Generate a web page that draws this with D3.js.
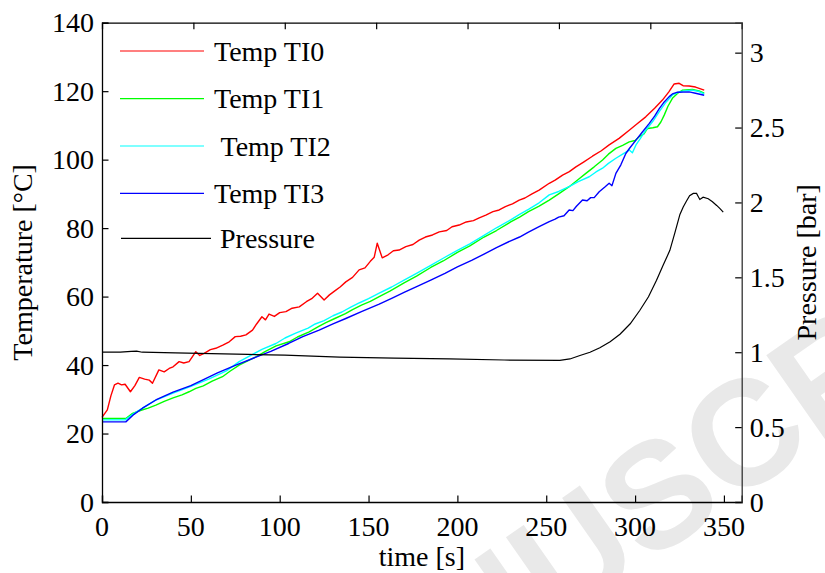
<!DOCTYPE html>
<html>
<head>
<meta charset="utf-8">
<script src="https://cdn.jsdelivr.net/npm/d3@7"></script>
<style>
  body { margin: 0; background: #fff; }
</style>
</head>
<body>
<svg id="chart" width="825" height="573" font-family="Liberation Serif, DejaVu Serif, serif"></svg>
<script>
// Temperature series, [time s, temp °C]
const ti0 = [[0,24.7],[3,26.9],[5,31],[7,34.2],[9,34.7],[11,34.2],[13,34.4],[16,32.2],[18.5,34],[21,36.4],[24,35.9],[26.6,35.6],[28.4,34.7],[32,38.6],[35,38],[37.8,39],[40,39.5],[43.4,41],[46,40.6],[49,41],[52.8,43.9],[55,42.8],[57.5,43.4],[61,44.5],[64,44.9],[68,45.8],[71.6,46.8],[75,48.3],[78,48.4],[81,48.8],[84.7,50.2],[87,52],[90,54.1],[92,53.2],[94,54.9],[97,54.2],[100,55.3],[103.5,55.6],[107,56.6],[111,57],[115,58.5],[118,59.4],[121.3,61],[125,59],[128,60.5],[131.6,61.9],[134,62.8],[137.2,64.3],[141,65.6],[144.7,67.8],[148,68.4],[151,70.3],[153.2,71.5],[154.9,75.6],[157.7,71.3],[161,72.2],[164,73.4],[167.2,73.6],[171,74.6],[175,75.2],[178.5,76.5],[182,77.4],[186,78],[189.8,78.9],[194,79.3],[197,80.4],[201,80.9],[205,81.8],[209,82.2],[212.3,83],[216,83.8],[220,84.8],[223.5,85.3],[227,86.3],[231,87.1],[234.8,88.2],[238,88.8],[242,90],[246,91.1],[251.7,93.1],[255,94],[259.2,95.5],[263,96.5],[266.7,97.9],[271,99.3],[276,101],[281,102.6],[285.4,104.3],[291,106.2],[296.7,108.6],[301,110.4],[306,112.5],[311,115],[315.4,117.4],[319,119.8],[322,122.1],[324.8,122.3],[327,121.6],[330.4,121.5],[334,121.2],[338.9,120.3]];
const ti1 = [[0,24.4],[6,24.4],[13.4,24.4],[17.2,25.9],[22,26.8],[26,27.4],[30.3,28.3],[35,29.4],[40,30.4],[45,31.3],[49,32.2],[52.8,33.2],[57,33.9],[62,35.3],[67.8,36.6],[72,38.2],[77.2,40],[82,41.2],[86.6,42.4],[92,44],[98,45.6],[105.3,46.8],[110,48.2],[116.6,49.7],[122,51.3],[126,52.4],[131,53.6],[137,55],[141,56.2],[146,57.5],[151,58.6],[156,60],[162,61.6],[170,64],[177,66],[185,68.5],[192,70.4],[200,72.9],[207,74.8],[215,77.4],[222,79.3],[230,81.8],[235,83.2],[240,84.8],[246,86.4],[251.7,88.2],[257,90],[262.9,92.1],[268,94.2],[272.3,96],[277,97.9],[281.7,99.9],[285,101.6],[289.2,103.3],[293,104.2],[296.7,105.2],[300,105.6],[302.3,106.7],[305,107.5],[307,109.1],[310,109.3],[312.6,109.6],[314.5,111],[316.4,113],[318.5,115.6],[321,117.9],[324,119.4],[326.7,120.3],[332.3,120.5],[336,120.1],[338.9,119.4]];
const ti2 = [[0,24],[6,24],[13,24],[17,25.5],[22.8,27.4],[30,29.7],[40,31.8],[50,33.8],[60,35.9],[70,38.3],[77.2,41],[85,43.2],[90,44.6],[97.9,46.3],[103,47.9],[109,49.3],[116,50.8],[120,52],[125,53],[130,54.4],[135,55.5],[140,56.9],[145,58.2],[150,59.4],[156,61],[163,62.8],[170,64.8],[177,66.8],[185,69.1],[192,71.2],[200,73.5],[207,75.4],[215,77.9],[222,80.1],[230,82.4],[235,84],[240,85.5],[246,87.4],[251.7,89.7],[257,90.7],[262.9,92.1],[268,93.6],[274.2,95],[278,96.4],[281.7,97.5],[285,98.9],[289.2,100.4],[293,101.6],[296.7,102.8],[298.5,102],[300.5,104.3],[303,106.2],[306,108.6],[310,111.2],[313.6,114],[317,116.5],[321,118.9],[324,119.6],[326.7,120],[332,120.3],[336,119.9],[338.9,119.2]];
const ti3 = [[0,23.4],[7,23.4],[13.4,23.4],[18,25.6],[22.8,27.4],[30.3,29.8],[40,32.1],[50,34],[56.5,35.6],[65,37.7],[75,39.9],[86.6,42.3],[95,44],[105,46.3],[113,48.3],[122.2,50.2],[130,52],[137.2,53.6],[146,55.6],[156,57.8],[163,59.5],[170,61.2],[178,63.1],[185,64.8],[193,66.8],[200,68.7],[208,70.6],[215,72.4],[222,74.3],[230,76.3],[235,77.4],[240,78.8],[246,80.4],[251.7,81.9],[255,82.6],[257,83.2],[260,83.6],[262.9,85.3],[265,85.1],[267,86.4],[270.4,88.2],[273,88],[275,88.9],[277,88.9],[279.8,90.6],[283,92],[285.4,93.1],[287,92.4],[289.2,96],[292,98.5],[294.8,101.8],[297,103.4],[300.5,105.7],[304,108],[308,110.6],[311,112.7],[313.6,114.9],[316,116.6],[319.2,118.4],[321,119.2],[323.9,119.7],[330.4,119.8],[334,119.4],[338.9,118.8]];
// Pressure, [time s, bar]
const pressure = [[0,1.0],[10,1.0],[16,1.005],[19,1.007],[22,1.0],[40,0.995],[60,0.99],[80,0.985],[100,0.98],[130,0.967],[160,0.96],[190,0.955],[220,0.948],[250.5,0.945],[256,0.955],[261.5,0.978],[267,1.0],[272.4,1.03],[278,1.07],[283.4,1.12],[289,1.19],[294.3,1.28],[299,1.37],[303.4,1.48],[307,1.58],[310.7,1.68],[313.5,1.8],[316.2,1.92],[318,1.97],[319.8,2.01],[321.5,2.045],[323.5,2.06],[325.3,2.06],[326.2,2.04],[327.1,2.02],[328.9,2.035],[331.7,2.025],[334,2.005],[336.3,1.98],[338,1.96],[339.9,1.935]];

const names = ["Temp TI0", "Temp TI1", " Temp TI2", "Temp TI3", "Pressure"];
const colors = ["#ff0000", "#00ff00", "#00ffff", "#0000ff", "#000000"];
const xTicks = [0, 50, 100, 150, 200, 250, 300, 350];
const xTopTicks = [50, 100, 150, 200, 250, 300];
const tempTicks = [0, 20, 40, 60, 80, 100, 120, 140];
const presTicks = [0, 0.5, 1, 1.5, 2, 2.5, 3];

const svg = d3.select("#chart");
const L = 102, R = 741.7, T = 22.7, B = 502;
const tick = 6.5;
const fs = 28;
const serif = "'Liberation Serif', 'DejaVu Serif', serif";

// watermark, behind everything
svg.append("text")
  .attr("transform", "translate(278,823) rotate(-35)")
  .style("font-family", "'Liberation Sans', Arial, sans-serif")
  .style("font-weight", "bold")
  .style("font-size", "150px")
  .attr("fill", "#e9e9e9")
  .text("MANUSCRIPT");

const x = d3.scaleLinear().domain([0, 360]).range([L, R]);
const x2 = d3.scaleLinear().domain([0, 350]).range([L, R]);
const y = d3.scaleLinear().domain([0, 140]).range([B, T]);
const y2 = d3.scaleLinear().domain([0, 3.2]).range([B, T]);

const tempLine = d3.line().x((d) => x(d[0])).y((d) => y(d[1]));
const presLine = d3.line().x((d) => x2(d[0])).y((d) => y2(d[1]));

const lines = svg.append("g");
[ti0, ti1, ti2, ti3].forEach((s, i) => {
  lines.append("path")
    .attr("d", tempLine(s))
    .attr("fill", "none")
    .attr("stroke", colors[i])
    .attr("stroke-width", 1.4)
    .attr("stroke-linejoin", "round");
});
lines.append("path")
  .attr("d", presLine(pressure))
  .attr("fill", "none")
  .attr("stroke", colors[4])
  .attr("stroke-width", 1.2);

// Axes (inward ticks, matlab style)
const axBottom = svg.append("g").attr("transform", `translate(0,${B})`)
  .call(d3.axisTop(x).tickValues(xTicks).tickSize(tick).tickFormat(""));
const axTop = svg.append("g").attr("transform", `translate(0,${T})`)
  .call(d3.axisBottom(x2).tickValues(xTopTicks).tickSize(tick).tickFormat(""));
const axLeft = svg.append("g").attr("transform", `translate(${L},0)`)
  .call(d3.axisRight(y).tickValues(tempTicks).tickSize(tick).tickFormat(""));
const axRight = svg.append("g").attr("transform", `translate(${R},0)`)
  .call(d3.axisLeft(y2).tickValues(presTicks).tickSize(tick).tickFormat(""));
[axBottom, axTop, axLeft, axRight].forEach((g) => {
  g.select(".domain").attr("stroke", "#000").attr("stroke-width", 1.3);
  g.selectAll(".tick line").attr("stroke", "#000").attr("stroke-width", 1.2);
});
axRight.select(".domain").attr("stroke", "#333");

// all text in Times-like serif
const label = (sel) => sel.style("font-family", serif).style("font-size", fs + "px").attr("fill", "#000");

// Tick labels
svg.append("g").selectAll("text").data(xTicks).join("text")
  .attr("x", (d) => x(d)).attr("y", 536)
  .attr("text-anchor", "middle").call(label)
  .text((d) => d);
svg.append("g").selectAll("text").data(tempTicks).join("text")
  .attr("x", L - 8).attr("y", (d) => y(d)).attr("dy", "0.34em")
  .attr("text-anchor", "end").call(label)
  .text((d) => d);
svg.append("g").selectAll("text").data(presTicks).join("text")
  .attr("x", R + 8).attr("y", (d) => y2(d)).attr("dy", "0.34em")
  .attr("text-anchor", "start").call(label)
  .text((d) => d);

// Axis titles
svg.append("text").attr("x", (L + R) / 2).attr("y", 566)
  .attr("text-anchor", "middle").call(label).text("time [s]");
svg.append("text").attr("transform", `translate(32,${(T + B) / 2}) rotate(-90)`)
  .attr("text-anchor", "middle").call(label).text("Temperature [°C]");
svg.append("text").attr("transform", `translate(816,${(T + B) / 2}) rotate(-90)`)
  .attr("text-anchor", "middle").call(label).text("Pressure [bar]");

// Legend (no box)
const legY = [51, 98.7, 146, 193.3, 238.3];
const legend = svg.append("g");
names.forEach((n, i) => {
  const last = i === 4;
  legend.append("line")
    .attr("x1", last ? 121 : 120).attr("x2", last ? 211 : 204)
    .attr("y1", legY[i]).attr("y2", legY[i])
    .attr("stroke", colors[i]).attr("stroke-width", 1.2);
  legend.append("text")
    .attr("x", last ? 220 : 214).attr("y", legY[i] + 9.5)
    .style("white-space", "pre")
    .call(label)
    .text(n);
});
</script>
</body>
</html>
